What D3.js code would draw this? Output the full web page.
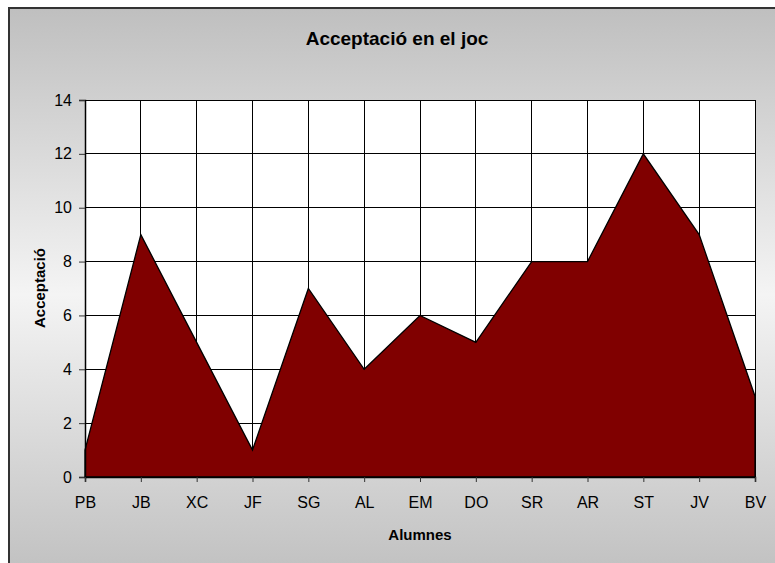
<!DOCTYPE html>
<html>
<head>
<meta charset="utf-8">
<script src="https://cdn.jsdelivr.net/npm/d3@7"></script>
<style>
  body { margin: 0; background: #fff; }
  text { font-family: "Liberation Sans", Arial, sans-serif; }
</style>
</head>
<body>
<div id="chart"></div>
<script>
const alumnes = ['PB', 'JB', 'XC', 'JF', 'SG', 'AL', 'EM', 'DO', 'SR', 'AR', 'ST', 'JV', 'BV'];
const acceptacio = [1, 9, 5, 1, 7, 4, 6, 5, 8, 8, 12, 9, 3];
const yTicks = [0, 2, 4, 6, 8, 10, 12, 14];

const width = 775, height = 563;
const plot = { left: 85, right: 755, top: 100, bottom: 477 };

const svg = d3.select('#chart').append('svg')
    .attr('width', width)
    .attr('height', height);

// background gradient, dark at top and bottom, light in the middle
const grad = svg.append('defs').append('linearGradient')
    .attr('id', 'bg')
    .attr('x1', 0).attr('y1', 0).attr('x2', 0).attr('y2', 1);
grad.append('stop').attr('offset', '0%').attr('stop-color', '#bfbfbf');
grad.append('stop').attr('offset', '50%').attr('stop-color', '#f4f4f4');
grad.append('stop').attr('offset', '100%').attr('stop-color', '#bfbfbf');

svg.append('rect')
    .attr('x', 9).attr('y', 8)
    .attr('width', width + 10).attr('height', height + 10)
    .attr('fill', 'url(#bg)')
    .attr('stroke', '#333')
    .attr('stroke-width', 2);

const x = d3.scalePoint()
    .domain(alumnes)
    .range([plot.left, plot.right]);

const y = d3.scaleLinear()
    .domain([0, 14])
    .range([plot.bottom, plot.top]);

// plot area
svg.append('rect')
    .attr('x', plot.left).attr('y', plot.top)
    .attr('width', plot.right - plot.left)
    .attr('height', plot.bottom - plot.top)
    .attr('fill', '#fff');

// gridlines
const grid = svg.append('g').attr('stroke', '#000').attr('stroke-width', 1).attr('shape-rendering', 'crispEdges');
grid.selectAll('.hg')
    .data(yTicks.filter(d => d > 0))
    .enter().append('line')
    .attr('x1', plot.left).attr('x2', plot.right)
    .attr('y1', d => y(d)).attr('y2', d => y(d));
grid.selectAll('.vg')
    .data(alumnes.slice(1))
    .enter().append('line')
    .attr('x1', d => x(d)).attr('x2', d => x(d))
    .attr('y1', plot.top).attr('y2', plot.bottom);

// area
const area = d3.area()
    .x((d, i) => x(alumnes[i]))
    .y0(plot.bottom)
    .y1(d => y(d));

svg.append('path')
    .datum(acceptacio)
    .attr('d', area)
    .attr('fill', '#800000')
    .attr('stroke', '#000')
    .attr('stroke-width', 1.3);

// axes
const yAxis = svg.append('g')
    .attr('transform', 'translate(' + plot.left + ',0)')
    .call(d3.axisLeft(y).tickValues(yTicks).tickSize(6).tickPadding(7));
const xAxis = svg.append('g')
    .attr('transform', 'translate(0,' + plot.bottom + ')')
    .call(d3.axisBottom(x).tickSize(5).tickPadding(15));

[yAxis, xAxis].forEach(ax => {
    ax.attr('font-size', null).attr('font-family', null);
    ax.select('.domain').attr('stroke', '#000').attr('stroke-width', 1.5);
    ax.selectAll('.tick line').attr('stroke', '#333');
    ax.selectAll('text')
        .attr('fill', '#000')
        .style('font-size', '16px');
});

// titles
svg.append('text')
    .attr('x', 397).attr('y', 45)
    .attr('text-anchor', 'middle')
    .style('font-size', '19px')
    .style('font-weight', 'bold')
    .text('Acceptació en el joc');

svg.append('text')
    .attr('x', 420).attr('y', 540)
    .attr('text-anchor', 'middle')
    .style('font-size', '15px')
    .style('font-weight', 'bold')
    .text('Alumnes');

svg.append('text')
    .attr('transform', 'translate(45,288) rotate(-90)')
    .attr('text-anchor', 'middle')
    .style('font-size', '15px')
    .style('font-weight', 'bold')
    .text('Acceptació');
</script>
</body>
</html>
